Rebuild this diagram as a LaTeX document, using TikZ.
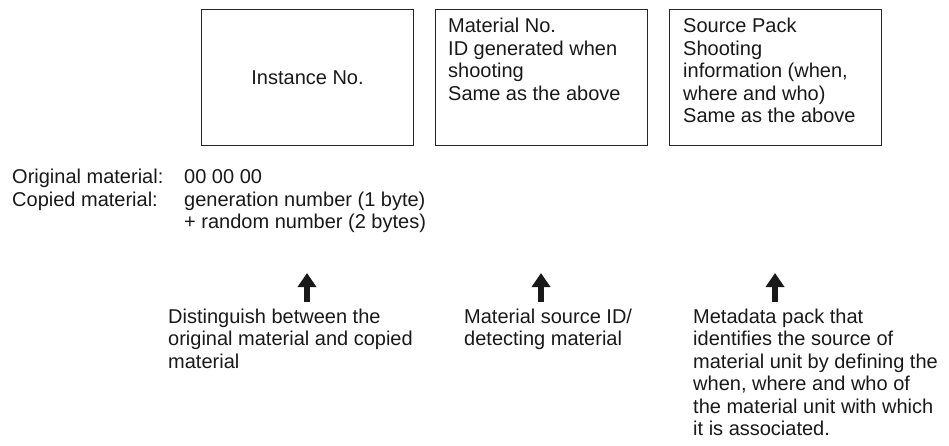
\documentclass[tikz,border=0pt]{standalone}
\usepackage{fontspec}
\setmainfont{Liberation Sans}
\usetikzlibrary{arrows.meta}
\tikzset{
  box/.style={draw=black!85, line width=1.1pt, minimum width=212pt, minimum height=136pt, anchor=north west, inner sep=0pt},
  txt/.style={anchor=base west, inner sep=0pt, text=black!90, font=\fontsize{20}{22.5}\selectfont},
  uparrow/.style={draw=black!90, line width=5.5pt, -{Triangle[width=18pt,length=14pt]}}
}
\newcommand{\lines}[1]{\begin{tabular}[t]{@{}l@{}}#1\end{tabular}}
\begin{document}
\begin{tikzpicture}[x=1pt,y=-1pt]
\useasboundingbox (0,0) rectangle (949,446);
% boxes
\node[box] (b1) at (201,9) {};
\node[box] (b2) at (435,9) {};
\node[box] (b3) at (669,9) {};
\node[txt, anchor=center] (t1) at (b1.center) {Instance No.};
\node[txt] (t2) at (448,33) {\lines{Material No.\\ID generated when\\shooting\\Same as the above}};
\node[txt] (t3) at (683,33) {\lines{Source Pack\\Shooting\\information (when,\\where and who)\\Same as the above}};
% left texts
\node[txt] (o1) at (12,184) {\lines{Original material:\\Copied material:}};
\node[txt] (o2) at (184,184) {\lines{00 00 00\\generation number (1 byte)\\+ random number (2 bytes)}};
% arrows
\coordinate (a1s) at (307,302); \coordinate (a1t) at (307,273);
\coordinate (a2s) at (541,302); \coordinate (a2t) at (541,273);
\coordinate (a3s) at (775,302); \coordinate (a3t) at (775,273);
\draw[uparrow] (a1s) -- (a1t);
\draw[uparrow] (a2s) -- (a2t);
\draw[uparrow] (a3s) -- (a3t);
% bottom texts
\node[txt] (d1) at (168,323) {\lines{Distinguish between the\\original material and copied\\material}};
\node[txt] (d2) at (464,323) {\lines{Material source ID/\\detecting material}};
\node[txt] (d3) at (693,323) {\lines{Metadata pack that\\identifies the source of\\material unit by defining the\\when, where and who of\\the material unit with which\\it is associated.}};
\end{tikzpicture}
\end{document}
